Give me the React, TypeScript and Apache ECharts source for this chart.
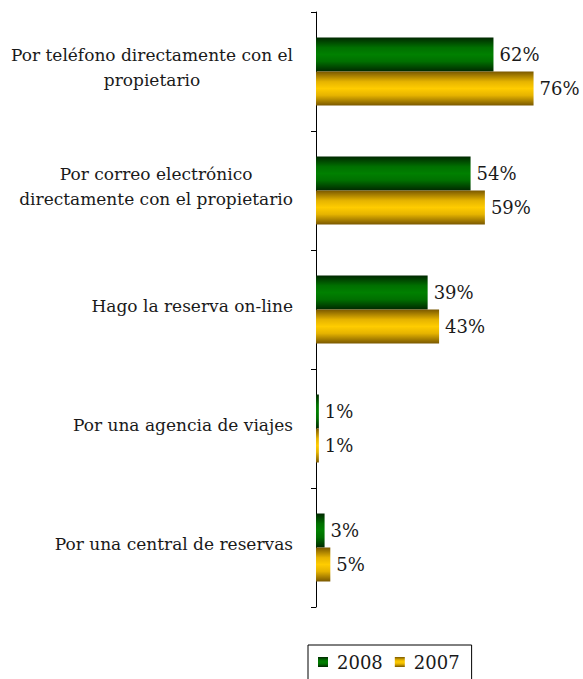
import React, { useEffect, useRef } from "react";
import * as echarts from "echarts";

const categories = [
  "Por teléfono directamente con el\npropietario",
  "Por correo electrónico\ndirectamente con el propietario",
  "Hago la reserva on-line",
  "Por una agencia de viajes",
  "Por una central de reservas",
];
const seriesNames = ["2008", "2007"];
const values2008 = [62, 54, 39, 1, 3];
const values2007 = [76, 59, 43, 1, 5];

const FONT = "DejaVu Serif";

const greenGrad = new echarts.graphic.LinearGradient(0, 0, 0, 1, [
  { offset: 0, color: "#002800" },
  { offset: 0.3, color: "#007000" },
  { offset: 0.5, color: "#008000" },
  { offset: 0.7, color: "#007000" },
  { offset: 1, color: "#002800" },
]);
const yellowGrad = new echarts.graphic.LinearGradient(0, 0, 0, 1, [
  { offset: 0, color: "#7a5800" },
  { offset: 0.3, color: "#e6b400" },
  { offset: 0.5, color: "#ffcc00" },
  { offset: 0.7, color: "#e6b400" },
  { offset: 1, color: "#7a5800" },
]);

export default function App() {
  const ref = useRef<HTMLDivElement>(null);
  useEffect(() => {
    const chart = echarts.init(ref.current!, null, { renderer: "svg" });
    const labelCfg = {
      show: true,
      position: "right",
      distance: 6,
      formatter: "{c}%",
      color: "#1a1a1a",
      fontSize: 18,
      fontFamily: FONT,
    };
    chart.setOption({
      animation: false,
      grid: { left: 316, top: 12, width: 229, bottom: 72 },
      legend: {
        data: seriesNames,
        left: 308,
        top: 645,
        itemWidth: 10,
        itemHeight: 10,
        itemGap: 12,
        icon: "rect",
        borderColor: "#000",
        borderWidth: 1,
        borderRadius: 0,
        padding: [8, 12, 12, 10],
        textStyle: {
          fontFamily: FONT,
          fontSize: 18,
          color: "#1a1a1a",
          padding: [0, 0, 0, 4],
        },
      },
      xAxis: {
        type: "value",
        min: 0,
        max: 80,
        show: false,
      },
      yAxis: {
        type: "category",
        data: categories,
        inverse: true,
        axisLine: { show: true, lineStyle: { color: "#000", width: 1 } },
        axisTick: { show: true, length: 5, lineStyle: { color: "#000" } },
        axisLabel: {
          margin: 23,
          align: "right",
          fontFamily: FONT,
          fontSize: 17,
          color: "#1a1a1a",
          lineHeight: 25,
          padding: [0, 0, 8, 0],
          formatter: (v: string) =>
            v
              .split("\n")
              .map((l) => "{c|" + l + "}")
              .join("\n"),
          rich: {
            c: {
              align: "center",
              fontFamily: FONT,
              fontSize: 17,
              color: "#1a1a1a",
              lineHeight: 25,
            },
          },
        },
        splitLine: { show: false },
      },
      series: [
        {
          name: "2008",
          type: "bar",
          data: values2008,
          barWidth: 34,
          barGap: "0%",
          itemStyle: { color: greenGrad },
          label: labelCfg,
        },
        {
          name: "2007",
          type: "bar",
          data: values2007,
          barWidth: 34,
          barGap: "0%",
          itemStyle: { color: yellowGrad },
          label: labelCfg,
        },
      ],
    });
    return () => chart.dispose();
  }, []);
  return (
    <div
      ref={ref}
      style={{ position: "fixed", left: 0, top: 0, width: 583, height: 679, background: "#fff" }}
    />
  );
}
